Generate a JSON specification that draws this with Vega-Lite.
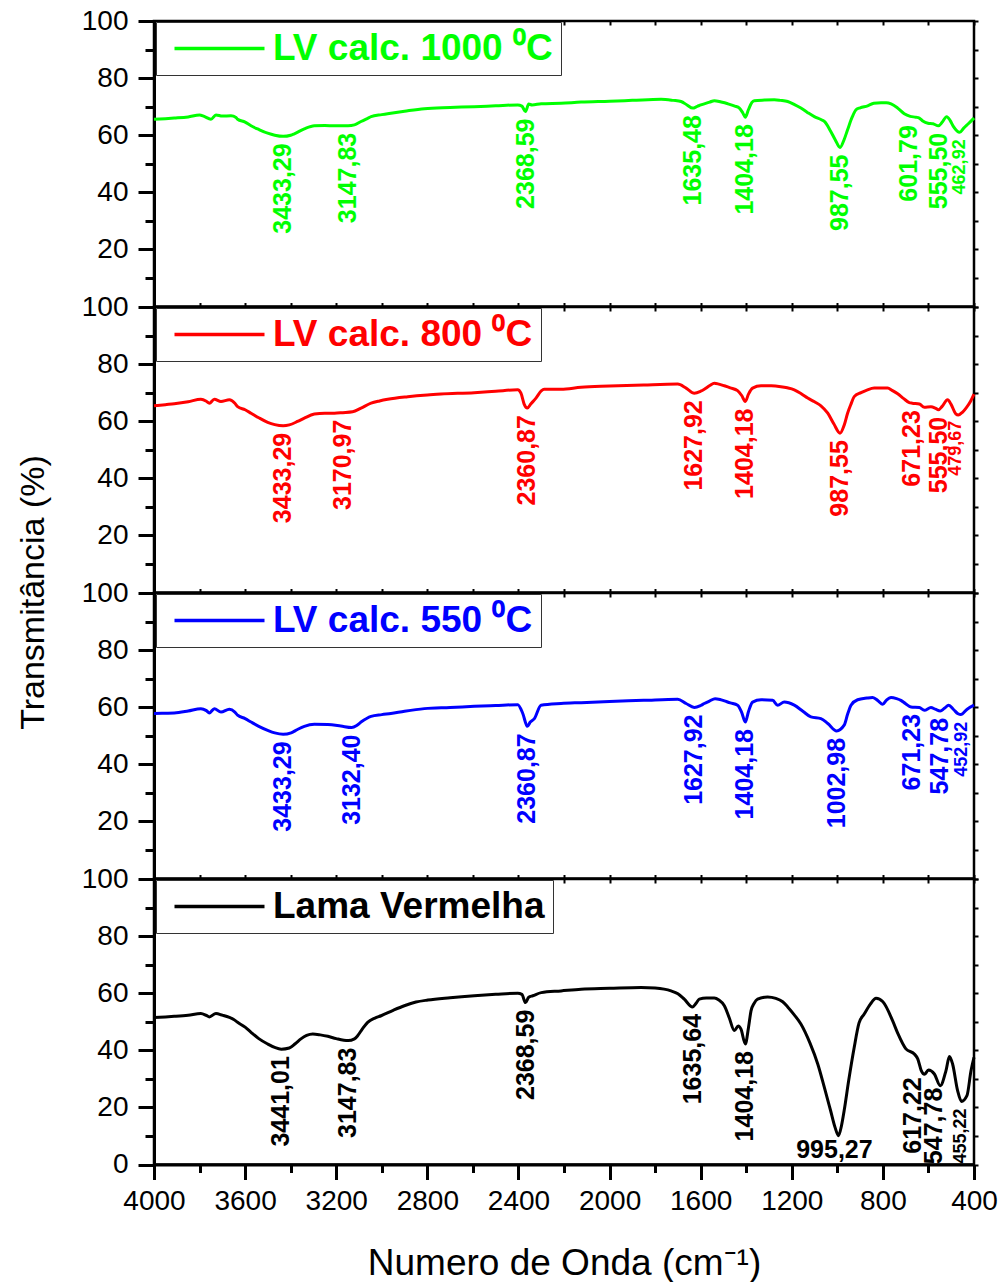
{
  "$schema": "https://vega.github.io/schema/vega-lite/v6.json",
  "padding": {"left": 14, "top": 5, "right": 5, "bottom": 2},
  "bounds": "flush",
  "spacing": 0,
  "config": {
    "font": "Liberation Sans",
    "view": {"stroke": "#000", "strokeWidth": 2.5},
    "axis": {"grid": false, "labelFont": "Liberation Sans", "labelFontSize": 28, "labelColor": "#000", "labelFlush": false, "tickColor": "#000", "domainColor": "#000", "titleFont": "Liberation Sans", "titleColor": "#000", "titleFontWeight": "normal"},
    "legend": {"orient": "none", "legendX": 2, "legendY": 1, "padding": 8, "strokeColor": "#333", "fillColor": "#fff", "symbolType": "M-4.5,0H4.5", "symbolSize": 400, "symbolStrokeWidth": 3.5, "symbolOffset": 37, "labelOffset": 35, "labelFont": "Liberation Sans", "labelFontSize": 37, "labelFontWeight": "bold", "labelLimit": 0},
    "locale": {"number": {"decimal": ",", "thousands": ".", "grouping": [3], "currency": ["", ""]}}
  },
  "resolve": {"scale": {"color": "independent"}, "legend": {"color": "independent"}},
  "vconcat": [
    {
      "width": 820, "height": 285.5,
      "resolve": {"axis": {"x": "independent", "y": "independent"}},
      "layer": [
        {
          "data": {"values": [
            {"wn":4000,"T":65.6},{"wn":3950,"T":65.8},{"wn":3911,"T":66.0},{"wn":3850,"T":66.4},{"wn":3800,"T":67.1},{"wn":3780,"T":66.6},{"wn":3750,"T":65.6},{"wn":3728,"T":67.1},{"wn":3700,"T":66.7},{"wn":3662,"T":66.8},{"wn":3640,"T":66.2},{"wn":3633,"T":65.6},{"wn":3600,"T":64.6},{"wn":3574,"T":63.3},{"wn":3540,"T":62.0},{"wn":3501,"T":60.7},{"wn":3470,"T":60.0},{"wn":3433,"T":59.6},{"wn":3400,"T":60.0},{"wn":3384,"T":60.5},{"wn":3340,"T":62.2},{"wn":3296,"T":63.3},{"wn":3250,"T":63.4},{"wn":3208,"T":63.3},{"wn":3148,"T":63.3},{"wn":3120,"T":63.6},{"wn":3091,"T":64.8},{"wn":3060,"T":66.0},{"wn":3047,"T":66.5},{"wn":3000,"T":67.2},{"wn":2960,"T":67.7},{"wn":2900,"T":68.4},{"wn":2813,"T":69.3},{"wn":2700,"T":69.7},{"wn":2594,"T":70.0},{"wn":2500,"T":70.3},{"wn":2403,"T":70.6},{"wn":2385,"T":70.2},{"wn":2369,"T":68.3},{"wn":2355,"T":70.9},{"wn":2340,"T":70.6},{"wn":2300,"T":71.0},{"wn":2213,"T":71.2},{"wn":2125,"T":71.6},{"wn":2000,"T":71.9},{"wn":1900,"T":72.2},{"wn":1774,"T":72.6},{"wn":1720,"T":72.2},{"wn":1686,"T":71.8},{"wn":1660,"T":70.6},{"wn":1635,"T":69.5},{"wn":1615,"T":70.1},{"wn":1599,"T":70.6},{"wn":1560,"T":71.6},{"wn":1540,"T":72.1},{"wn":1510,"T":71.6},{"wn":1481,"T":71.0},{"wn":1450,"T":70.2},{"wn":1430,"T":69.5},{"wn":1415,"T":67.8},{"wn":1404,"T":66.3},{"wn":1390,"T":69.0},{"wn":1375,"T":71.5},{"wn":1365,"T":72.1},{"wn":1320,"T":72.3},{"wn":1277,"T":72.4},{"wn":1250,"T":72.2},{"wn":1218,"T":71.8},{"wn":1190,"T":70.8},{"wn":1160,"T":69.5},{"wn":1130,"T":67.9},{"wn":1101,"T":66.5},{"wn":1070,"T":65.4},{"wn":1057,"T":64.8},{"wn":1030,"T":61.5},{"wn":1010,"T":58.5},{"wn":988,"T":55.7},{"wn":970,"T":58.5},{"wn":955,"T":61.9},{"wn":935,"T":66.3},{"wn":918,"T":68.9},{"wn":900,"T":69.6},{"wn":867,"T":70.3},{"wn":840,"T":71.2},{"wn":808,"T":71.4},{"wn":785,"T":71.4},{"wn":764,"T":71.0},{"wn":735,"T":69.5},{"wn":706,"T":67.5},{"wn":680,"T":66.6},{"wn":655,"T":66.3},{"wn":640,"T":66.0},{"wn":625,"T":65.0},{"wn":602,"T":64.2},{"wn":580,"T":64.0},{"wn":556,"T":63.3},{"wn":540,"T":64.5},{"wn":520,"T":66.5},{"wn":505,"T":65.2},{"wn":490,"T":63.0},{"wn":463,"T":61.0},{"wn":445,"T":62.5},{"wn":425,"T":64.0},{"wn":400,"T":66.0}
          ]},
          "mark": {"type": "line", "strokeWidth": 3, "interpolate": "monotone"},
          "encoding": {
            "x": {"field": "wn", "type": "quantitative", "scale": {"domain": [400, 4000], "reverse": true, "nice": false, "zero": false},
                  "axis": {"orient": "bottom", "values": [400,600,800,1000,1200,1400,1600,1800,2000,2200,2400,2600,2800,3000,3200,3400,3600,3800,4000], "labels": false, "domain": false, "tickSize": -4, "tickWidth": 2, "title": null}},
            "y": {"field": "T", "type": "quantitative", "scale": {"domain": [0, 100], "nice": false, "zero": false},
                  "axis": {"orient": "left", "values": [20,40,60,80,100], "format": "d", "tickSize": 16, "tickWidth": 3, "domain": true, "domainWidth": 3, "labelPadding": 10, "title": null}},
            "color": {"datum": "LV calc. 1000 ⁰C", "type": "nominal", "scale": {"range": ["#00ff00"]}, "legend": {"title": null, "labelColor": "#00ff00"}}
          }
        },
        {
          "data": {"values": [
            {"wn":3433.29,"T":59.6},{"wn":3147.83,"T":63.3},{"wn":2368.59,"T":68.3},{"wn":1635.48,"T":69.5},{"wn":1404.18,"T":66.3},{"wn":987.55,"T":55.7},{"wn":555.50,"T":63.3}
          ]},
          "mark": {"type": "text", "angle": 270, "align": "right", "baseline": "middle", "dx": -7, "fontSize": 25, "fontWeight": "bold", "color": "#00ff00"},
          "encoding": {
            "x": {"field": "wn", "type": "quantitative", "scale": {"domain": [400, 4000], "reverse": true, "nice": false, "zero": false},
                  "axis": {"orient": "top", "values": [400,600,800,1000,1200,1400,1600,1800,2000,2200,2400,2600,2800,3000,3200,3400,3600,3800,4000], "labels": false, "domain": false, "tickSize": -4, "tickWidth": 2, "title": null}},
            "y": {"field": "T", "type": "quantitative", "scale": {"domain": [0, 100], "nice": false, "zero": false},
                  "axis": {"orient": "left", "values": [10,30,50,70,90], "labels": false, "domain": false, "tickSize": 9, "tickWidth": 3, "title": null}},
            "text": {"field": "wn", "type": "quantitative", "format": ".2f"}
          }
        },
        {
          "data": {"values": [{"wn":462.92,"T":61.0}]},
          "mark": {"type": "text", "angle": 270, "align": "right", "baseline": "middle", "dx": -7, "fontSize": 18, "fontWeight": "bold", "color": "#00ff00"},
          "encoding": {
            "x": {"field": "wn", "type": "quantitative", "scale": {"domain": [400, 4000], "reverse": true, "nice": false, "zero": false}, "axis": null},
            "y": {"field": "T", "type": "quantitative", "scale": {"domain": [0, 100], "nice": false, "zero": false},
                  "axis": {"orient": "right", "values": [0,10,20,30,40,50,60,70,80,90,100], "labels": false, "domain": false, "tickSize": 4, "tickWidth": 2, "title": null}},
            "text": {"field": "wn", "type": "quantitative", "format": ".2f"}
          }
        },
        {
          "data": {"values": [{"wn":601.79,"T":64.2}]},
          "mark": {"type": "text", "angle": 270, "align": "right", "baseline": "middle", "dx": -2, "dy": -19, "fontSize": 25, "fontWeight": "bold", "color": "#00ff00"},
          "encoding": {
            "x": {"field": "wn", "type": "quantitative", "scale": {"domain": [400, 4000], "reverse": true, "nice": false, "zero": false}, "axis": null},
            "y": {"field": "T", "type": "quantitative", "scale": {"domain": [0, 100], "nice": false, "zero": false}, "axis": null},
            "text": {"field": "wn", "type": "quantitative", "format": ".2f"}
          }
        }
      ]
    },
    {
      "width": 820, "height": 285.5,
      "resolve": {"axis": {"x": "independent", "y": "independent"}},
      "layer": [
        {
          "data": {"values": [
            {"wn":4000,"T":65.4},{"wn":3950,"T":65.8},{"wn":3911,"T":66.1},{"wn":3850,"T":66.8},{"wn":3794,"T":67.7},{"wn":3770,"T":67.0},{"wn":3757,"T":66.3},{"wn":3735,"T":67.7},{"wn":3706,"T":66.9},{"wn":3669,"T":67.5},{"wn":3645,"T":66.3},{"wn":3633,"T":65.1},{"wn":3600,"T":64.0},{"wn":3574,"T":62.8},{"wn":3540,"T":61.2},{"wn":3501,"T":59.6},{"wn":3470,"T":58.8},{"wn":3433,"T":58.4},{"wn":3406,"T":58.7},{"wn":3370,"T":59.9},{"wn":3340,"T":61.1},{"wn":3296,"T":62.5},{"wn":3250,"T":62.8},{"wn":3208,"T":62.8},{"wn":3171,"T":63.0},{"wn":3128,"T":63.3},{"wn":3091,"T":64.6},{"wn":3047,"T":66.3},{"wn":3010,"T":67.1},{"wn":2974,"T":67.7},{"wn":2886,"T":68.6},{"wn":2800,"T":69.2},{"wn":2740,"T":69.5},{"wn":2594,"T":70.0},{"wn":2500,"T":70.5},{"wn":2403,"T":71.0},{"wn":2389,"T":69.8},{"wn":2375,"T":66.0},{"wn":2361,"T":64.6},{"wn":2345,"T":66.1},{"wn":2323,"T":68.1},{"wn":2300,"T":70.6},{"wn":2287,"T":71.2},{"wn":2213,"T":71.2},{"wn":2125,"T":71.9},{"wn":2000,"T":72.3},{"wn":1850,"T":72.7},{"wn":1701,"T":73.0},{"wn":1664,"T":71.6},{"wn":1628,"T":69.8},{"wn":1600,"T":70.5},{"wn":1584,"T":71.2},{"wn":1560,"T":72.5},{"wn":1540,"T":73.3},{"wn":1520,"T":73.0},{"wn":1496,"T":72.4},{"wn":1470,"T":71.7},{"wn":1438,"T":70.7},{"wn":1420,"T":69.0},{"wn":1404,"T":66.9},{"wn":1390,"T":69.5},{"wn":1372,"T":71.6},{"wn":1335,"T":72.4},{"wn":1290,"T":72.4},{"wn":1248,"T":72.1},{"wn":1220,"T":71.7},{"wn":1189,"T":71.0},{"wn":1160,"T":69.7},{"wn":1130,"T":68.1},{"wn":1100,"T":66.8},{"wn":1072,"T":65.4},{"wn":1042,"T":62.8},{"wn":1015,"T":59.0},{"wn":988,"T":55.8},{"wn":970,"T":58.6},{"wn":955,"T":62.8},{"wn":940,"T":66.0},{"wn":926,"T":68.6},{"wn":896,"T":70.0},{"wn":870,"T":70.9},{"wn":838,"T":71.6},{"wn":800,"T":71.6},{"wn":779,"T":71.6},{"wn":760,"T":70.8},{"wn":735,"T":69.6},{"wn":710,"T":68.0},{"wn":684,"T":66.5},{"wn":671,"T":66.3},{"wn":640,"T":66.0},{"wn":618,"T":64.9},{"wn":589,"T":65.1},{"wn":570,"T":64.6},{"wn":556,"T":64.0},{"wn":540,"T":65.2},{"wn":516,"T":67.5},{"wn":500,"T":65.8},{"wn":480,"T":62.6},{"wn":469,"T":62.2},{"wn":450,"T":63.2},{"wn":435,"T":64.6},{"wn":415,"T":67.0},{"wn":400,"T":69.5}
          ]},
          "mark": {"type": "line", "strokeWidth": 3, "interpolate": "monotone"},
          "encoding": {
            "x": {"field": "wn", "type": "quantitative", "scale": {"domain": [400, 4000], "reverse": true, "nice": false, "zero": false},
                  "axis": {"orient": "bottom", "values": [400,600,800,1000,1200,1400,1600,1800,2000,2200,2400,2600,2800,3000,3200,3400,3600,3800,4000], "labels": false, "domain": false, "tickSize": -4, "tickWidth": 2, "title": null}},
            "y": {"field": "T", "type": "quantitative", "scale": {"domain": [0, 100], "nice": false, "zero": false},
                  "axis": {"orient": "left", "values": [20,40,60,80,100], "format": "d", "tickSize": 16, "tickWidth": 3, "domain": true, "domainWidth": 3, "labelPadding": 10,
                           "title": "Transmitância (%)", "titleFontSize": 34, "titleAngle": 270, "titleAlign": "center", "titleBaseline": "bottom", "titleX": -104, "titleY": 285}},
            "color": {"datum": "LV calc. 800 ⁰C", "type": "nominal", "scale": {"range": ["#ff0000"]}, "legend": {"title": null, "labelColor": "#ff0000"}}
          }
        },
        {
          "data": {"values": [
            {"wn":3433.29,"T":58.4},{"wn":3170.97,"T":63.0},{"wn":2360.87,"T":64.6},{"wn":1627.92,"T":69.8},{"wn":1404.18,"T":66.9},{"wn":987.55,"T":55.8},{"wn":671.23,"T":66.3},{"wn":555.50,"T":64.0}
          ]},
          "mark": {"type": "text", "angle": 270, "align": "right", "baseline": "middle", "dx": -7, "fontSize": 25, "fontWeight": "bold", "color": "#ff0000"},
          "encoding": {
            "x": {"field": "wn", "type": "quantitative", "scale": {"domain": [400, 4000], "reverse": true, "nice": false, "zero": false},
                  "axis": {"orient": "top", "values": [400,600,800,1000,1200,1400,1600,1800,2000,2200,2400,2600,2800,3000,3200,3400,3600,3800,4000], "labels": false, "domain": false, "tickSize": -4, "tickWidth": 2, "title": null}},
            "y": {"field": "T", "type": "quantitative", "scale": {"domain": [0, 100], "nice": false, "zero": false},
                  "axis": {"orient": "left", "values": [10,30,50,70,90], "labels": false, "domain": false, "tickSize": 9, "tickWidth": 3, "title": null}},
            "text": {"field": "wn", "type": "quantitative", "format": ".2f"}
          }
        },
        {
          "data": {"values": [{"wn":479.67,"T":62.6}]},
          "mark": {"type": "text", "angle": 270, "align": "right", "baseline": "middle", "dx": -7, "fontSize": 18, "fontWeight": "bold", "color": "#ff0000"},
          "encoding": {
            "x": {"field": "wn", "type": "quantitative", "scale": {"domain": [400, 4000], "reverse": true, "nice": false, "zero": false}, "axis": null},
            "y": {"field": "T", "type": "quantitative", "scale": {"domain": [0, 100], "nice": false, "zero": false},
                  "axis": {"orient": "right", "values": [0,10,20,30,40,50,60,70,80,90,100], "labels": false, "domain": false, "tickSize": 4, "tickWidth": 2, "title": null}},
            "text": {"field": "wn", "type": "quantitative", "format": ".2f"}
          }
        }
      ]
    },
    {
      "width": 820, "height": 285.5,
      "resolve": {"axis": {"x": "independent", "y": "independent"}},
      "layer": [
        {
          "data": {"values": [
            {"wn":4000,"T":57.8},{"wn":3950,"T":57.9},{"wn":3911,"T":58.0},{"wn":3850,"T":58.7},{"wn":3794,"T":59.5},{"wn":3770,"T":58.8},{"wn":3757,"T":58.0},{"wn":3735,"T":59.5},{"wn":3706,"T":58.3},{"wn":3669,"T":59.3},{"wn":3645,"T":58.3},{"wn":3633,"T":57.2},{"wn":3600,"T":56.0},{"wn":3574,"T":54.8},{"wn":3540,"T":53.3},{"wn":3501,"T":51.9},{"wn":3470,"T":51.0},{"wn":3433,"T":50.5},{"wn":3398,"T":51.0},{"wn":3370,"T":52.2},{"wn":3340,"T":53.3},{"wn":3296,"T":54.0},{"wn":3237,"T":53.9},{"wn":3180,"T":53.4},{"wn":3132,"T":52.9},{"wn":3110,"T":53.6},{"wn":3091,"T":54.8},{"wn":3047,"T":56.8},{"wn":3000,"T":57.4},{"wn":2960,"T":57.8},{"wn":2900,"T":58.6},{"wn":2813,"T":59.5},{"wn":2700,"T":59.9},{"wn":2594,"T":60.3},{"wn":2500,"T":60.6},{"wn":2403,"T":60.9},{"wn":2381,"T":57.8},{"wn":2361,"T":53.3},{"wn":2348,"T":54.8},{"wn":2330,"T":56.0},{"wn":2301,"T":60.7},{"wn":2213,"T":61.3},{"wn":2125,"T":61.6},{"wn":2000,"T":62.0},{"wn":1850,"T":62.4},{"wn":1701,"T":62.8},{"wn":1664,"T":61.3},{"wn":1628,"T":59.9},{"wn":1600,"T":60.6},{"wn":1584,"T":61.3},{"wn":1560,"T":62.2},{"wn":1537,"T":63.0},{"wn":1515,"T":62.7},{"wn":1496,"T":62.2},{"wn":1470,"T":61.5},{"wn":1438,"T":60.7},{"wn":1420,"T":58.2},{"wn":1404,"T":54.8},{"wn":1390,"T":58.5},{"wn":1372,"T":61.8},{"wn":1335,"T":62.6},{"wn":1284,"T":62.4},{"wn":1262,"T":60.7},{"wn":1233,"T":61.8},{"wn":1189,"T":60.7},{"wn":1150,"T":58.5},{"wn":1116,"T":56.6},{"wn":1072,"T":56.0},{"wn":1042,"T":54.3},{"wn":1003,"T":51.7},{"wn":970,"T":53.7},{"wn":955,"T":57.5},{"wn":940,"T":60.7},{"wn":911,"T":62.6},{"wn":870,"T":63.2},{"wn":845,"T":63.4},{"wn":820,"T":62.2},{"wn":801,"T":61.0},{"wn":785,"T":62.4},{"wn":764,"T":63.4},{"wn":740,"T":63.0},{"wn":721,"T":62.4},{"wn":700,"T":61.2},{"wn":677,"T":60.1},{"wn":640,"T":59.9},{"wn":618,"T":58.9},{"wn":589,"T":59.9},{"wn":570,"T":59.3},{"wn":548,"T":58.7},{"wn":530,"T":59.6},{"wn":511,"T":60.7},{"wn":490,"T":59.2},{"wn":470,"T":57.7},{"wn":458,"T":57.4},{"wn":430,"T":59.3},{"wn":400,"T":60.7}
          ]},
          "mark": {"type": "line", "strokeWidth": 3, "interpolate": "monotone"},
          "encoding": {
            "x": {"field": "wn", "type": "quantitative", "scale": {"domain": [400, 4000], "reverse": true, "nice": false, "zero": false},
                  "axis": {"orient": "bottom", "values": [400,600,800,1000,1200,1400,1600,1800,2000,2200,2400,2600,2800,3000,3200,3400,3600,3800,4000], "labels": false, "domain": false, "tickSize": -4, "tickWidth": 2, "title": null}},
            "y": {"field": "T", "type": "quantitative", "scale": {"domain": [0, 100], "nice": false, "zero": false},
                  "axis": {"orient": "left", "values": [20,40,60,80,100], "format": "d", "tickSize": 16, "tickWidth": 3, "domain": true, "domainWidth": 3, "labelPadding": 10, "title": null}},
            "color": {"datum": "LV calc. 550 ⁰C", "type": "nominal", "scale": {"range": ["#0000ff"]}, "legend": {"title": null, "labelColor": "#0000ff"}}
          }
        },
        {
          "data": {"values": [
            {"wn":3433.29,"T":50.5},{"wn":3132.40,"T":52.9},{"wn":2360.87,"T":53.3},{"wn":1627.92,"T":59.9},{"wn":1404.18,"T":54.8},{"wn":1002.98,"T":51.7},{"wn":671.23,"T":60.1},{"wn":547.78,"T":58.7}
          ]},
          "mark": {"type": "text", "angle": 270, "align": "right", "baseline": "middle", "dx": -7, "fontSize": 25, "fontWeight": "bold", "color": "#0000ff"},
          "encoding": {
            "x": {"field": "wn", "type": "quantitative", "scale": {"domain": [400, 4000], "reverse": true, "nice": false, "zero": false},
                  "axis": {"orient": "top", "values": [400,600,800,1000,1200,1400,1600,1800,2000,2200,2400,2600,2800,3000,3200,3400,3600,3800,4000], "labels": false, "domain": false, "tickSize": -4, "tickWidth": 2, "title": null}},
            "y": {"field": "T", "type": "quantitative", "scale": {"domain": [0, 100], "nice": false, "zero": false},
                  "axis": {"orient": "left", "values": [10,30,50,70,90], "labels": false, "domain": false, "tickSize": 9, "tickWidth": 3, "title": null}},
            "text": {"field": "wn", "type": "quantitative", "format": ".2f"}
          }
        },
        {
          "data": {"values": [{"wn":452.92,"T":57.4}]},
          "mark": {"type": "text", "angle": 270, "align": "right", "baseline": "middle", "dx": -7, "fontSize": 18, "fontWeight": "bold", "color": "#0000ff"},
          "encoding": {
            "x": {"field": "wn", "type": "quantitative", "scale": {"domain": [400, 4000], "reverse": true, "nice": false, "zero": false}, "axis": null},
            "y": {"field": "T", "type": "quantitative", "scale": {"domain": [0, 100], "nice": false, "zero": false},
                  "axis": {"orient": "right", "values": [0,10,20,30,40,50,60,70,80,90,100], "labels": false, "domain": false, "tickSize": 4, "tickWidth": 2, "title": null}},
            "text": {"field": "wn", "type": "quantitative", "format": ".2f"}
          }
        }
      ]
    },
    {
      "width": 820, "height": 285.5,
      "resolve": {"axis": {"x": "independent", "y": "independent"}},
      "layer": [
        {
          "data": {"values": [
            {"wn":4000,"T":51.5},{"wn":3950,"T":51.7},{"wn":3911,"T":51.9},{"wn":3850,"T":52.3},{"wn":3794,"T":52.9},{"wn":3770,"T":52.2},{"wn":3757,"T":51.7},{"wn":3728,"T":52.9},{"wn":3700,"T":52.3},{"wn":3669,"T":51.5},{"wn":3650,"T":50.8},{"wn":3633,"T":49.8},{"wn":3600,"T":48.1},{"wn":3574,"T":46.3},{"wn":3540,"T":44.1},{"wn":3501,"T":42.2},{"wn":3470,"T":41.0},{"wn":3441,"T":40.4},{"wn":3406,"T":40.8},{"wn":3380,"T":42.3},{"wn":3355,"T":44.0},{"wn":3330,"T":45.2},{"wn":3303,"T":45.7},{"wn":3270,"T":45.4},{"wn":3237,"T":44.9},{"wn":3200,"T":44.1},{"wn":3148,"T":43.4},{"wn":3120,"T":44.0},{"wn":3106,"T":45.1},{"wn":3085,"T":47.5},{"wn":3062,"T":49.8},{"wn":3030,"T":51.3},{"wn":3003,"T":52.1},{"wn":2950,"T":54.0},{"wn":2901,"T":55.6},{"wn":2850,"T":56.9},{"wn":2798,"T":57.6},{"wn":2700,"T":58.4},{"wn":2594,"T":59.1},{"wn":2500,"T":59.6},{"wn":2403,"T":60.0},{"wn":2385,"T":59.6},{"wn":2369,"T":56.7},{"wn":2355,"T":58.6},{"wn":2337,"T":59.1},{"wn":2300,"T":60.2},{"wn":2213,"T":60.8},{"wn":2125,"T":61.4},{"wn":2000,"T":61.7},{"wn":1862,"T":62.0},{"wn":1800,"T":61.8},{"wn":1730,"T":60.8},{"wn":1700,"T":59.8},{"wn":1672,"T":57.9},{"wn":1636,"T":55.2},{"wn":1620,"T":56.5},{"wn":1606,"T":57.9},{"wn":1575,"T":58.3},{"wn":1540,"T":58.3},{"wn":1520,"T":57.6},{"wn":1496,"T":55.6},{"wn":1475,"T":51.5},{"wn":1452,"T":46.9},{"wn":1435,"T":48.5},{"wn":1423,"T":47.4},{"wn":1404,"T":42.2},{"wn":1390,"T":48.0},{"wn":1379,"T":53.8},{"wn":1365,"T":56.5},{"wn":1350,"T":57.9},{"wn":1306,"T":58.7},{"wn":1270,"T":58.2},{"wn":1240,"T":57.0},{"wn":1218,"T":55.2},{"wn":1190,"T":52.5},{"wn":1160,"T":49.2},{"wn":1120,"T":42.5},{"wn":1086,"T":35.2},{"wn":1057,"T":27.0},{"wn":1030,"T":19.0},{"wn":1010,"T":13.0},{"wn":995,"T":10.1},{"wn":982,"T":13.5},{"wn":970,"T":18.9},{"wn":950,"T":29.5},{"wn":926,"T":41.0},{"wn":905,"T":49.5},{"wn":882,"T":52.7},{"wn":855,"T":56.2},{"wn":830,"T":58.2},{"wn":800,"T":57.0},{"wn":757,"T":50.3},{"wn":735,"T":46.0},{"wn":699,"T":40.5},{"wn":662,"T":38.7},{"wn":647,"T":37.0},{"wn":632,"T":33.0},{"wn":617,"T":31.6},{"wn":600,"T":33.1},{"wn":574,"T":31.7},{"wn":548,"T":27.6},{"wn":523,"T":32.9},{"wn":508,"T":37.8},{"wn":494,"T":35.2},{"wn":472,"T":25.9},{"wn":455,"T":22.1},{"wn":431,"T":24.1},{"wn":413,"T":32.9},{"wn":400,"T":37.5}
          ]},
          "mark": {"type": "line", "strokeWidth": 3, "interpolate": "monotone"},
          "encoding": {
            "x": {"field": "wn", "type": "quantitative", "scale": {"domain": [400, 4000], "reverse": true, "nice": false, "zero": false},
                  "axis": {"orient": "bottom", "values": [400,800,1200,1600,2000,2400,2800,3200,3600,4000], "format": "d", "tickSize": 15, "tickWidth": 3, "domain": true, "domainWidth": 3, "labelPadding": 8,
                           "title": "Numero de Onda (cm⁻¹)", "titleFontSize": 37, "titlePadding": 30}},
            "y": {"field": "T", "type": "quantitative", "scale": {"domain": [0, 100], "nice": false, "zero": false},
                  "axis": {"orient": "left", "values": [0,20,40,60,80,100], "format": "d", "tickSize": 16, "tickWidth": 3, "domain": true, "domainWidth": 3, "labelPadding": 10, "title": null}},
            "color": {"datum": "Lama Vermelha", "type": "nominal", "scale": {"range": ["#000000"]}, "legend": {"title": null, "labelColor": "#000000"}}
          }
        },
        {
          "data": {"values": [
            {"wn":3441.01,"T":40.4},{"wn":3147.83,"T":43.4},{"wn":2368.59,"T":56.7},{"wn":1635.64,"T":55.2},{"wn":1404.18,"T":42.2}
          ]},
          "mark": {"type": "text", "angle": 270, "align": "right", "baseline": "middle", "dx": -7, "fontSize": 25, "fontWeight": "bold", "color": "#000000"},
          "encoding": {
            "x": {"field": "wn", "type": "quantitative", "scale": {"domain": [400, 4000], "reverse": true, "nice": false, "zero": false},
                  "axis": {"orient": "top", "values": [400,600,800,1000,1200,1400,1600,1800,2000,2200,2400,2600,2800,3000,3200,3400,3600,3800,4000], "labels": false, "domain": false, "tickSize": -4, "tickWidth": 2, "title": null}},
            "y": {"field": "T", "type": "quantitative", "scale": {"domain": [0, 100], "nice": false, "zero": false},
                  "axis": {"orient": "left", "values": [10,30,50,70,90], "labels": false, "domain": false, "tickSize": 9, "tickWidth": 3, "title": null}},
            "text": {"field": "wn", "type": "quantitative", "format": ".2f"}
          }
        },
        {
          "data": {"values": [{"wn":455.22,"T":22.1}]},
          "mark": {"type": "text", "angle": 270, "align": "right", "baseline": "middle", "dx": -7, "fontSize": 18, "fontWeight": "bold", "color": "#000000"},
          "encoding": {
            "x": {"field": "wn", "type": "quantitative", "scale": {"domain": [400, 4000], "reverse": true, "nice": false, "zero": false},
                  "axis": {"orient": "bottom", "values": [600,1000,1400,1800,2200,2600,3000,3400,3800], "labels": false, "domain": false, "tickSize": 8, "tickWidth": 3, "title": null}},
            "y": {"field": "T", "type": "quantitative", "scale": {"domain": [0, 100], "nice": false, "zero": false},
                  "axis": {"orient": "right", "values": [0,10,20,30,40,50,60,70,80,90,100], "labels": false, "domain": false, "tickSize": 4, "tickWidth": 2, "title": null}},
            "text": {"field": "wn", "type": "quantitative", "format": ".2f"}
          }
        },
        {
          "data": {"values": [{"wn":617.22,"T":31.6}]},
          "mark": {"type": "text", "angle": 270, "align": "right", "baseline": "middle", "dx": -3, "dy": -12, "fontSize": 25, "fontWeight": "bold", "color": "#000000"},
          "encoding": {
            "x": {"field": "wn", "type": "quantitative", "scale": {"domain": [400, 4000], "reverse": true, "nice": false, "zero": false}, "axis": null},
            "y": {"field": "T", "type": "quantitative", "scale": {"domain": [0, 100], "nice": false, "zero": false}, "axis": null},
            "text": {"field": "wn", "type": "quantitative", "format": ".2f"}
          }
        },
        {
          "data": {"values": [{"wn":547.78,"T":27.6}]},
          "mark": {"type": "text", "angle": 270, "align": "right", "baseline": "middle", "dx": -2, "dy": -6, "fontSize": 25, "fontWeight": "bold", "color": "#000000"},
          "encoding": {
            "x": {"field": "wn", "type": "quantitative", "scale": {"domain": [400, 4000], "reverse": true, "nice": false, "zero": false}, "axis": null},
            "y": {"field": "T", "type": "quantitative", "scale": {"domain": [0, 100], "nice": false, "zero": false}, "axis": null},
            "text": {"field": "wn", "type": "quantitative", "format": ".2f"}
          }
        },
        {
          "data": {"values": [{"wn":995.27,"T":10.1}]},
          "mark": {"type": "text", "align": "center", "baseline": "alphabetic", "dx": -4, "dy": 22, "fontSize": 25, "fontWeight": "bold", "color": "#000000"},
          "encoding": {
            "x": {"field": "wn", "type": "quantitative", "scale": {"domain": [400, 4000], "reverse": true, "nice": false, "zero": false}, "axis": null},
            "y": {"field": "T", "type": "quantitative", "scale": {"domain": [0, 100], "nice": false, "zero": false}, "axis": null},
            "text": {"field": "wn", "type": "quantitative", "format": ".2f"}
          }
        }
      ]
    }
  ]
}
